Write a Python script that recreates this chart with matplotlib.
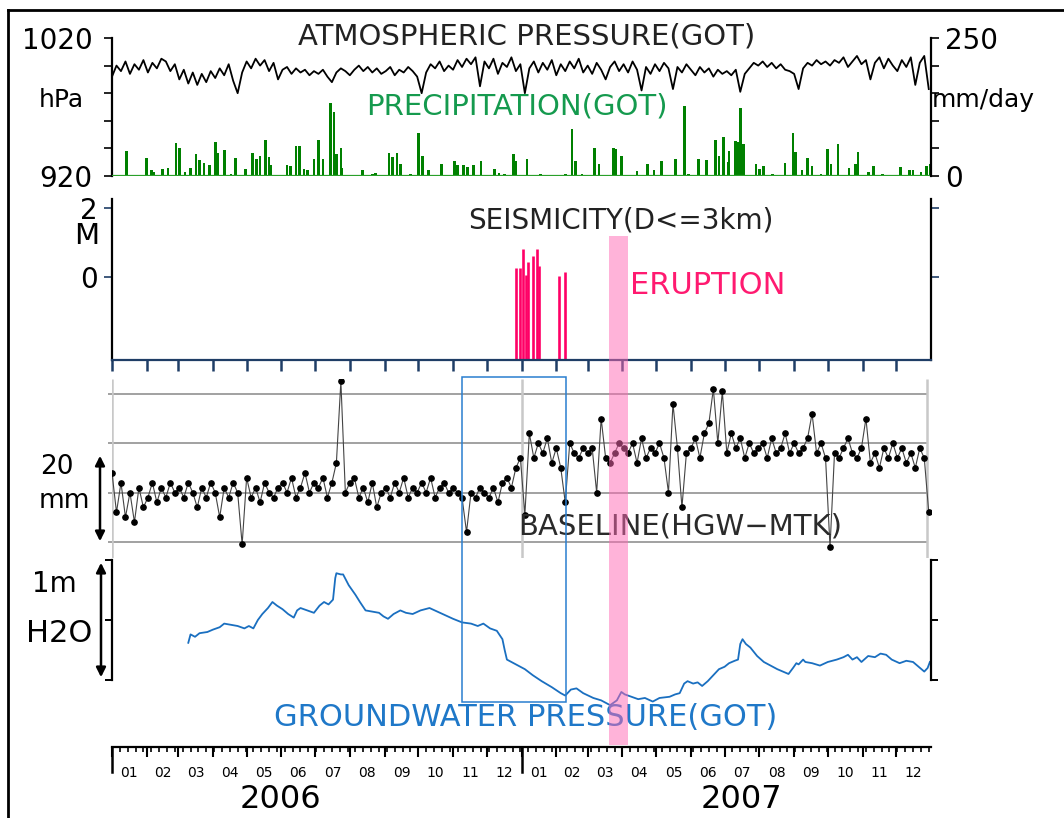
import numpy as np
import matplotlib
matplotlib.use("Agg")
import matplotlib.pyplot as plt
import matplotlib.transforms as mtransforms
from matplotlib.patches import Rectangle
from matplotlib.lines import Line2D

W, H = 1064, 818

# ---------------- data (day 0 = 2006-01-01) ----------------
sample_days = np.arange(0, 730, 4)   # one reading every 4 days

pressure_hpa = [
    # 2006
    992, 1000, 996, 1003, 994, 1001, 997, 1004,
    995, 1002, 998, 1005, 1003, 996, 1001,
    990, 997, 987, 995, 986, 994, 988, 996,
    991, 998, 993, 1001, 989, 980, 995,
    1003, 998, 1005, 1000, 1004, 996, 1002, 990,
    997, 999, 994, 998, 995, 997, 993, 996,
    994, 997, 992, 988, 995, 998, 996, 993,
    997, 1000, 996, 999, 995, 998, 994,
    996, 999, 993, 997, 995, 999, 996, 992,
    980, 995, 1001, 998, 1003, 996, 1000,
    997, 1004, 999, 1005, 1001, 1006, 985, 1003,
    998, 1005, 994, 1002, 999, 1006, 996, 1001,
    # 2007
    980, 998, 1003, 995, 1002, 997, 1004,
    993, 1001, 996, 1003, 998, 1005, 995,
    1000, 994, 1002, 997, 990, 999, 1003, 996,
    1001, 995, 1003, 997, 982, 999, 994, 1001,
    996, 1002, 998, 983, 999, 995, 1001,
    997, 993, 999, 995, 998, 992, 997, 994,
    996, 993, 997, 981, 994, 998, 1002, 1000,
    1003, 999, 1002, 998, 1001, 997, 996,
    994, 983, 998, 1002, 1000, 1004, 1001, 1003,
    1000, 1004, 1002, 1006, 999, 1003, 1007, 1001,
    1004, 990, 1002, 1006, 998, 1005, 1000,
    996, 1004, 999, 1006, 986, 1002, 1007, 983,
]

rain_days = [13, 31, 35, 37, 45, 50, 57, 60, 65, 70, 75, 78, 82, 87, 92, 94, 100,
             106, 110, 119, 125, 129, 132, 137, 140, 141, 156, 159, 164, 167, 171,
             174, 180, 184, 188, 195, 198, 200, 204, 205, 223, 232, 235, 247, 250,
             254, 257, 266, 273, 277, 282, 294, 305, 308, 313, 317, 322, 329, 341,
             345, 350, 358, 360, 370, 382, 404, 410, 413, 419, 430, 434, 447, 449,
             454, 468, 477, 483, 490, 502, 510, 514, 523, 530, 538, 541, 545, 549,
             550, 556, 558, 560, 563, 574, 577, 581, 589, 600, 607, 609, 615, 620,
             624, 632, 638, 641, 647, 657, 663, 665, 674, 679, 687, 703, 711, 714,
             721, 726, 729]
rain_mm = [46, 33, 10, 8, 13, 15, 59, 50, 7, 14, 40, 29, 24, 20, 61, 41, 48,
           4, 32, 13, 42, 31, 37, 66, 35, 20, 20, 18, 54, 54, 13,
           11, 31, 65, 31, 132, 116, 40, 51, 14, 10, 3, 5, 42, 35,
           42, 22, 3, 78, 37, 10, 21, 28, 20, 20, 16, 20, 28, 13,
           5, 4, 40, 28, 31, 3, 4, 85, 27, 4, 51, 22, 51, 49,
           36, 9, 22, 11, 27, 31, 126, 4, 31, 29, 65, 37, 70, 25,
           45, 63, 61, 123, 58, 22, 12, 19, 3, 23, 78, 44, 11, 32,
           19, 4, 49, 22, 58, 14, 22, 44, 8, 19, 3, 17, 10, 11,
           7, 19, 22]

quake_days = [360, 364, 366, 369, 371, 375, 379, 381, 398, 404]
quake_mag = [0.25, 0.25, 0.82, 0.06, 0.42, 0.61, 0.82, 0.32, 0.04, 0.15]

baseline_mm = [
    # 2006
    14, 6, 12, 5, 10, 4, 11, 7,
    9, 12, 8, 11, 9, 12, 10,
    11, 9, 12, 10, 7, 11, 9, 12,
    10, 5, 11, 9, 12, 10, -0.5,
    13, 9, 11, 8, 12, 10, 9, 11,
    12, 10, 13, 9, 11, 14, 10, 12,
    11, 13, 9, 12, 16, 32.5, 10, 12,
    13, 9, 11, 8, 12, 7, 10,
    11, 9, 12, 10, 13, 9, 11, 10,
    12, 10, 13, 9, 11, 12, 10,
    11, 10, 9, 2, 10, 9, 11, 10,
    9, 11, 8, 12, 13, 11, 15, 17,
    # 2007
    5.5, 22, 17, 20, 18, 21, 16,
    19, 15, 8, 20, 18, 17, 19,
    18, 19, 10, 25, 17, 16, 18, 20,
    19, 18, 20, 16, 21, 17, 19, 18,
    20, 17, 10, 28, 19, 7, 18,
    19, 21, 17, 22, 24, 31, 20, 30.5,
    18, 22, 19, 21, 17, 20, 18, 19,
    20, 17, 21, 18, 19, 22, 18,
    20, 18, 19, 21, 26, 18, 20, 17,
    -1, 18, 17, 19, 21, 18, 17, 19,
    25, 16, 18, 15, 19, 17, 20,
    17, 19, 16, 18, 15, 19, 17, 6,
]
baseline_grid = [0, 10, 20, 30]

gw_days = [68, 70, 74, 78, 85, 90, 96, 100, 106, 112, 118, 122, 126, 130, 134, 139,
           143, 147, 152, 157, 162, 165, 168, 174, 180, 185, 189, 193, 197, 199, 200,
           204, 206, 211, 217, 221, 226, 232, 238, 242, 246, 251, 257, 262, 268, 275,
           283, 290, 297, 304, 312, 320, 326, 331, 337, 343, 348, 350, 352, 358, 368,
           375, 383, 392, 400, 404, 409, 414, 420, 429, 436, 444, 450, 454, 457, 463,
           469, 475, 482, 488, 497, 502, 506, 510, 513, 518, 522, 526, 531, 536, 541,
           546, 550, 555, 558, 560, 562, 565, 569, 575, 581, 587, 593, 598, 603, 607,
           610, 612, 616, 618, 624, 631, 638, 646, 652, 656, 660, 664, 668, 674, 680,
           685, 690, 695, 702, 708, 714, 719, 724, 727, 729]
gw_m = [0.31, 0.38, 0.36, 0.39, 0.40, 0.42, 0.44, 0.47, 0.46, 0.45, 0.43, 0.45, 0.43,
        0.50, 0.55, 0.60, 0.65, 0.62, 0.59, 0.55, 0.52, 0.58, 0.60, 0.58, 0.56, 0.62,
        0.65, 0.63, 0.67, 0.85, 0.89, 0.88, 0.88, 0.79, 0.71, 0.65, 0.58, 0.57, 0.56,
        0.53, 0.51, 0.55, 0.58, 0.56, 0.55, 0.58, 0.60, 0.57, 0.54, 0.51, 0.48, 0.47,
        0.45, 0.47, 0.43, 0.41, 0.34, 0.25, 0.17, 0.14, 0.09, 0.04, -0.01, -0.06, -0.11,
        -0.13, -0.08, -0.07, -0.11, -0.15, -0.17, -0.21, -0.17, -0.10, -0.12, -0.14,
        -0.16, -0.15, -0.18, -0.15, -0.14, -0.12, -0.11, -0.03, -0.01, -0.03, -0.02,
        -0.05, -0.01, 0.04, 0.09, 0.11, 0.14, 0.16, 0.17, 0.30, 0.34, 0.30, 0.27, 0.20,
        0.15, 0.12, 0.09, 0.07, 0.05, 0.10, 0.14, 0.13, 0.17, 0.15, 0.14, 0.12, 0.15,
        0.17, 0.19, 0.21, 0.17, 0.19, 0.15, 0.20, 0.19, 0.22, 0.21, 0.17, 0.14, 0.16,
        0.15, 0.11, 0.07, 0.10, 0.15]

eruption_days = (443, 460)
box_days = (312, 405)

months = np.arange('2006-01', '2008-01', dtype='datetime64[M]')
month_start = (months.astype('datetime64[D]') - np.datetime64('2006-01-01')).astype(int)
month_end = np.append(month_start[1:], 730)
month_mid = (month_start + month_end) / 2
month_labels = ['%02d' % m for m in range(1, 13)] * 2
week_days = np.arange(0, 731, 7)
year_days = [0, 365]

XL = (0, 730)
NAVY = '#1f3d66'


def box(x0, y0, x1, y1):
    # pixel box (top-left origin) -> figure fraction rect
    return [x0 / W, 1 - y1 / H, (x1 - x0) / W, (y1 - y0) / H]


def ftext(x, y, s, **kw):
    fig.text(x / W, 1 - y / H, s, **kw)


fig = plt.figure(figsize=(W / 100, H / 100), dpi=100)
fig.patch.set_facecolor('white')

# ---------------- atmospheric pressure + precipitation ----------------
ax1 = fig.add_axes(box(112, 38, 931, 176))
ax1.plot(sample_days, pressure_hpa, color='k', lw=1.3)
ax1.set_xlim(XL)
ax1.set_ylim(920, 1020)
ax1.set_yticks(np.arange(920, 1021, 20))
ax1.set_yticklabels(['920', '', '', '', '', '1020'])
ax1.set_xticks([])
ax1.tick_params(axis='y', direction='out', length=6, width=1.2, labelsize=20, pad=8)
for s in ['top', 'bottom', 'right']:
    ax1.spines[s].set_visible(False)
ax1.spines['left'].set_linewidth(1.6)

ax1r = ax1.twinx()
ax1r.bar(rain_days, rain_mm, width=2.4, color='#008000', lw=0)
ax1r.axhline(0, color='#2aa02a', lw=1.6)
ax1r.set_ylim(0, 250)
ax1r.set_yticks(np.arange(0, 251, 50))
ax1r.set_yticklabels(['0', '', '', '', '', '250'])
ax1r.tick_params(axis='y', direction='out', length=6, width=1.2, labelsize=20, pad=4)
for s in ['top', 'bottom', 'left']:
    ax1r.spines[s].set_visible(False)
ax1r.spines['right'].set_linewidth(1.6)

ftext(527, 37, 'ATMOSPHERIC PRESSURE(GOT)', fontsize=21, color='#222222', ha='center', va='center')
ftext(517, 106, 'PRECIPITATION(GOT)', fontsize=21, color='#159a4e', ha='center', va='center')
ftext(61, 100, 'hPa', fontsize=18, ha='center', va='center')
ftext(932, 100, 'mm/day', fontsize=18, ha='left', va='center')

# ---------------- seismicity ----------------
ax2 = fig.add_axes(box(112, 199, 931, 360))
ax2.vlines(quake_days, -2.4, quake_mag, color='#ff0066', lw=1.9)
ax2.set_xlim(XL)
ax2.set_ylim(-2.4, 2.25)
ax2.set_yticks([0, 2])
ax2.set_yticklabels(['0', '2'])
ax2.tick_params(axis='y', left=True, right=True, labelleft=True, direction='out',
                length=6, width=1.2, color=NAVY, labelsize=20, pad=4)
ax2.set_xticks(month_start)
ax2.tick_params(axis='x', direction='out', length=8, width=1.8, color=NAVY, labelbottom=False)
ax2.spines['top'].set_visible(False)
ax2.spines['left'].set_linewidth(1.6)
ax2.spines['right'].set_linewidth(1.6)
ax2.spines['bottom'].set_color(NAVY)
ax2.spines['bottom'].set_linewidth(1.6)
ax2.patch.set_alpha(0)

ftext(87, 236, 'M', fontsize=21, ha='center', va='center')
ftext(621, 221, 'SEISMICITY(D<=3km)', fontsize=20, color='#222222', ha='center', va='center')
ftext(630, 285, 'ERUPTION', fontsize=22, color='#ff1a70', ha='left', va='center')

# ---------------- baseline ----------------
ax3 = fig.add_axes(box(112, 379, 931, 558))
ax3.set_xlim(XL)
ax3.set_ylim(-3.25, 33.0)
ax3.hlines(baseline_grid, -4, 726, color='#9a9a9a', lw=1.3, clip_on=False)
ax3.vlines([0, 365, 726], -3.25, 33.0, color='#c8c8c8', lw=1.8)
ax3.plot(sample_days, baseline_mm, '-', color='#444444', lw=0.8,
         marker='o', ms=3.8, mfc='k', mec='k')
ax3.axis('off')

ftext(518, 527, 'BASELINE(HGW\u2212MTK)', fontsize=21, color='#2a2a2a', ha='left', va='center')
ftext(57, 467, '20', fontsize=19, ha='center', va='center')
ftext(64, 501, 'mm', fontsize=19, ha='center', va='center')
fig.add_artist(matplotlib.patches.FancyArrowPatch(
    (100 / W, 1 - 453 / H), (100 / W, 1 - 544 / H), transform=fig.transFigure,
    arrowstyle='<|-|>', mutation_scale=14, lw=1.8, color='k'))

# ---------------- groundwater ----------------
ax4 = fig.add_axes(box(112, 555, 931, 712))
ax4.plot(gw_days, gw_m, color='#1a6fc0', lw=1.3)
ax4.set_xlim(XL)
ax4.set_ylim(-0.267, 1.042)
ax4.set_yticks([0, 0.5, 1])
ax4.set_yticklabels([])
ax4.set_xticks([])
ax4.tick_params(axis='y', left=True, right=True, direction='out', length=5, width=1.4)
for s in ['top', 'bottom']:
    ax4.spines[s].set_visible(False)
for s in ['left', 'right']:
    ax4.spines[s].set_bounds(0, 1)
    ax4.spines[s].set_linewidth(1.6)
ax4.patch.set_alpha(0)

ftext(54, 584, '1m', fontsize=20, ha='center', va='center')
ftext(59, 634, 'H2O', fontsize=22, ha='center', va='center')
ftext(526, 717, 'GROUNDWATER PRESSURE(GOT)', fontsize=22, color='#1f78c8', ha='center', va='center')
fig.add_artist(matplotlib.patches.FancyArrowPatch(
    (101 / W, 1 - 560 / H), (101 / W, 1 - 680 / H), transform=fig.transFigure,
    arrowstyle='<|-|>', mutation_scale=14, lw=1.8, color='k'))

# ---------------- date axis ----------------
ax5 = fig.add_axes(box(112, 737, 931, 747))
ax5.set_xlim(XL)
ax5.set_yticks([])
for s in ['top', 'left', 'right']:
    ax5.spines[s].set_visible(False)
ax5.spines['bottom'].set_linewidth(1.6)
ax5.set_xticks(month_start)
ax5.set_xticks(week_days, minor=True)
ax5.tick_params(axis='x', which='major', length=7, width=1.5, labelbottom=False)
ax5.tick_params(axis='x', which='minor', length=3.5, width=1.2)
for d in year_days:
    ax5.plot([d, d], [0, -2.5], color='k', lw=1.8, transform=ax5.get_xaxis_transform(),
             clip_on=False)
for d, lab in zip(month_mid, month_labels):
    ax5.annotate(lab, xy=(d, 0), xycoords=('data', 'axes fraction'), xytext=(0, -26),
                 textcoords='offset pixels', ha='center', va='center', fontsize=10)
ax5.patch.set_alpha(0)

ftext(280, 800, '2006', fontsize=23, ha='center', va='center')
ftext(741, 800, '2007', fontsize=23, ha='center', va='center')

# ---------------- eruption band + highlight box ----------------
axo = fig.add_axes(box(112, 236, 931, 745), zorder=10)
axo.set_xlim(XL)
axo.set_ylim(0, 1)
axo.axvspan(eruption_days[0], eruption_days[1], color='#ff69b4', alpha=0.5, lw=0)
axo.axis('off')
blend = mtransforms.blended_transform_factory(axo.transData, fig.transFigure)
axo.add_patch(Rectangle((box_days[0], 1 - 702 / H), box_days[1] - box_days[0], (702 - 377) / H,
                        transform=blend, fill=False, ec='#2a7fd0', lw=1.1, clip_on=False))

# outer frame
fig.add_artist(Line2D([8 / W, 8 / W], [0, 1 - 10 / H], color='k', lw=2))
fig.add_artist(Line2D([8 / W, 1], [1 - 10 / H, 1 - 10 / H], color='k', lw=2))

fig.savefig('out.png', dpi=100)
